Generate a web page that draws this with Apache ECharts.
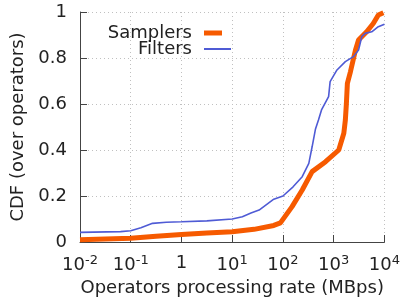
<!DOCTYPE html>
<html>
<head>
<meta charset="utf-8">
<script src="https://cdn.jsdelivr.net/npm/echarts@6/dist/echarts.min.js"></script>
<style>html,body{margin:0;padding:0;background:#fff}#c{width:403px;height:303px}</style>
</head>
<body>
<div id="c"></div>
<script>
// Data (x in MBps as log10 exponent, y = CDF)
const samplersLogX = [-2, -1.5, -1, -0.5, 0, 0.5, 1, 1.43, 1.82, 1.95, 2.18, 2.38, 2.575, 2.84, 3.1, 3.2, 3.23, 3.25, 3.27, 3.33, 3.43, 3.49, 3.65, 3.78, 3.88, 3.98];
const samplersY    = [0.01, 0.013, 0.016, 0.025, 0.033, 0.039, 0.045, 0.055, 0.072, 0.083, 0.154, 0.226, 0.306, 0.349, 0.40, 0.473, 0.53, 0.60, 0.69, 0.74, 0.835, 0.878, 0.914, 0.95, 0.987, 0.997];
const filtersLogX  = [-2, -1.2, -1, -0.8, -0.57, -0.3, 0, 0.5, 1, 1.2, 1.37, 1.53, 1.82, 2, 2.2, 2.38, 2.51, 2.575, 2.64, 2.7, 2.76, 2.9, 2.93, 3.065, 3.23, 3.39, 3.49, 3.555, 3.62, 3.75, 3.88, 4];
const filtersY     = [0.042, 0.045, 0.049, 0.062, 0.081, 0.086, 0.088, 0.092, 0.10, 0.11, 0.126, 0.139, 0.186, 0.2, 0.24, 0.284, 0.342, 0.414, 0.49, 0.53, 0.574, 0.632, 0.697, 0.748, 0.784, 0.806, 0.835, 0.893, 0.907, 0.914, 0.936, 0.947];
const seriesNames  = ['Samplers', 'Filters'];
const yTicks = [0, 0.2, 0.4, 0.6, 0.8, 1];

const toPairs = (lx, ys) => lx.map((e, i) => [Math.pow(10, e), ys[i]]);

const FONT = 'DejaVu Sans';
const TXT = '#222';
const chart = echarts.init(document.getElementById('c'), null, {renderer: 'canvas'});
chart.setOption({
  animation: false,
  backgroundColor: '#fff',
  grid: {left: 80, right: 17, top: 12, bottom: 61, containLabel: false},
  legend: [
    {data: [seriesNames[0]], right: 181, top: 24, padding: 0, align: 'right',
     itemWidth: 18, itemHeight: 5, icon: 'rect',
     textStyle: {fontFamily: FONT, fontSize: 18, color: TXT, padding: [0, 7, 0, 0]}},
    {data: [seriesNames[1]], right: 172, top: 40, padding: 0, align: 'right',
     itemWidth: 27, itemHeight: 2, icon: 'rect',
     textStyle: {fontFamily: FONT, fontSize: 18, color: TXT, padding: [0, 7, 0, 0]}}
  ],
  xAxis: {
    type: 'log', logBase: 10, min: 0.01, max: 10000,
    name: 'Operators processing rate (MBps)', nameLocation: 'middle', nameGap: 37,
    nameTextStyle: {fontFamily: FONT, fontSize: 18, color: TXT},
    axisLine: {lineStyle: {color: '#444', width: 1}},
    axisTick: {inside: true, length: 7, lineStyle: {color: '#444'}},
    minorTick: {show: false},
    splitLine: {show: true, lineStyle: {color: '#c0c0c0', type: [1, 3], width: 1}},
    axisLabel: {
      margin: 12, color: TXT, fontFamily: FONT, fontSize: 18,
      formatter: v => {
        const e = Math.round(Math.log10(v));
        return e === 0 ? '{b|1}' : '{b|10}{s|' + e + '}';
      },
      rich: {
        b: {fontFamily: FONT, fontSize: 18, color: TXT},
        s: {fontFamily: FONT, fontSize: 13, color: TXT, padding: [0, 0, 9, 0]}
      }
    }
  },
  yAxis: {
    type: 'value', min: 0, max: 1, interval: 0.2,
    name: 'CDF (over operators)', nameLocation: 'middle', nameGap: 48,
    nameTextStyle: {fontFamily: FONT, fontSize: 18, color: TXT},
    axisLine: {show: true, lineStyle: {color: '#444', width: 1}},
    axisTick: {show: true, inside: true, length: 7, lineStyle: {color: '#444'}},
    splitLine: {show: true, lineStyle: {color: '#c0c0c0', type: [1, 3], width: 1}},
    axisLabel: {margin: 13, color: TXT, fontFamily: FONT, fontSize: 18,
      formatter: v => String(+v.toFixed(1))}
  },
  series: [
    {name: seriesNames[0], type: 'line', data: toPairs(samplersLogX, samplersY),
     showSymbol: false, symbol: 'none', color: '#f65a00',
     lineStyle: {color: '#f65a00', width: 5}, z: 3},
    {name: seriesNames[1], type: 'line', data: toPairs(filtersLogX, filtersY),
     showSymbol: false, symbol: 'none', color: '#4f5bd5',
     lineStyle: {color: '#4f5bd5', width: 1.6}, z: 4}
  ]
});
</script>
</body>
</html>
